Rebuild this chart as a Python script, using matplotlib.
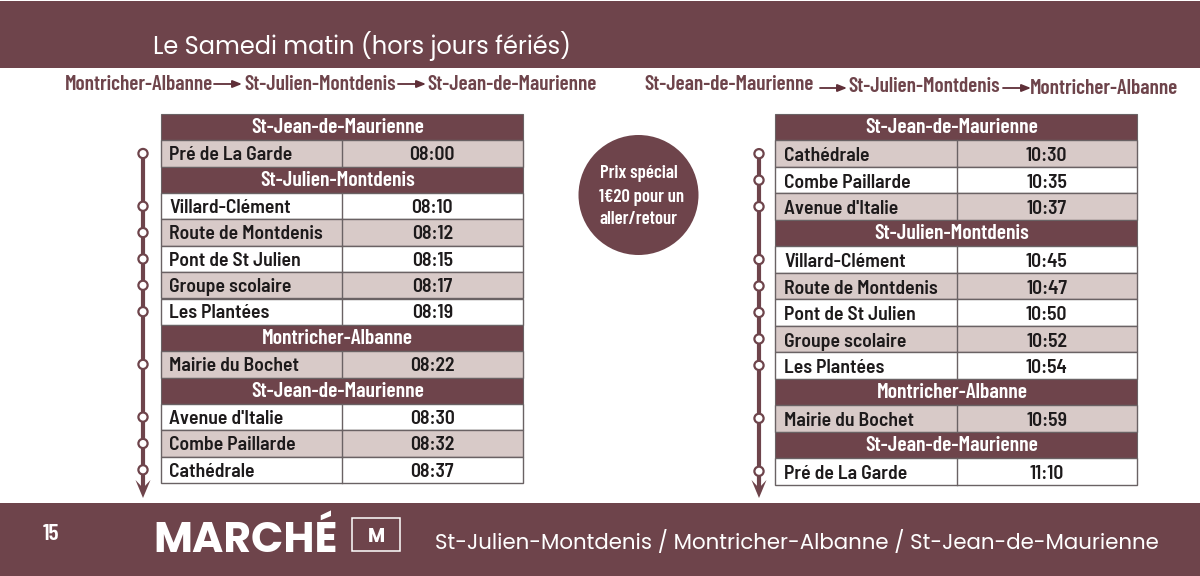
import matplotlib
matplotlib.use("Agg")
import matplotlib.pyplot as plt
from matplotlib.patches import Rectangle, Circle, Polygon

BROWN = "#6e444b"
SHADE = "#d8cac8"
EDGE = "#6a6264"
COND = ["Barlow Condensed", "DejaVu Sans"]
SEMI = ["Barlow Semi Condensed", "DejaVu Sans"]
WIDE = ["Poppins", "Open Sans", "DejaVu Sans"]

title = "Le Samedi matin (hors jours fériés)"
route_left = ["Montricher-Albanne", "St-Julien-Montdenis", "St-Jean-de-Maurienne"]
route_right = ["St-Jean-de-Maurienne", "St-Julien-Montdenis", "Montricher-Albanne"]

left_stops = ["St-Jean-de-Maurienne", "Pré de La Garde", "St-Julien-Montdenis", "Villard-Clément",
              "Route de Montdenis", "Pont de St Julien", "Groupe scolaire", "Les Plantées",
              "Montricher-Albanne", "Mairie du Bochet", "St-Jean-de-Maurienne", "Avenue d'Italie",
              "Combe Paillarde", "Cathédrale"]
left_times = [None, "08:00", None, "08:10", "08:12", "08:15", "08:17", "08:19",
              None, "08:22", None, "08:30", "08:32", "08:37"]
left_shaded = [0, 1, 0, 0, 1, 0, 1, 0, 0, 1, 0, 0, 1, 0]

right_stops = ["St-Jean-de-Maurienne", "Cathédrale", "Combe Paillarde", "Avenue d'Italie",
               "St-Julien-Montdenis", "Villard-Clément", "Route de Montdenis", "Pont de St Julien",
               "Groupe scolaire", "Les Plantées", "Montricher-Albanne", "Mairie du Bochet",
               "St-Jean-de-Maurienne", "Pré de La Garde"]
right_times = [None, "10:30", "10:35", "10:37", None, "10:45", "10:47", "10:50",
               "10:52", "10:54", None, "10:59", None, "11:10"]
right_shaded = [0, 1, 0, 1, 0, 0, 1, 0, 1, 0, 0, 1, 0, 0]

promo_lines = ["Prix spécial", "1€20 pour un", "aller/retour"]
page = "15"
section = "MARCHÉ"
badge = "M"
footer = "St-Julien-Montdenis / Montricher-Albanne / St-Jean-de-Maurienne"

fig = plt.figure(figsize=(12, 5.76), dpi=100, facecolor="white")
ax = fig.add_axes([0, 0, 1, 1])
ax.set_xlim(0, 1200)
ax.set_ylim(576, 0)
ax.axis("off")

ax.add_patch(Rectangle((0, 1), 1200, 66.5, fc=BROWN, ec="none"))
ax.add_patch(Rectangle((0, 503), 1200, 73, fc=BROWN, ec="none"))
ax.text(153, 46, title, color="white", fontsize=17.3, family=WIDE, va="center", ha="left")


def route(names, xs, ys, arrows):
    for n, x, y in zip(names, xs, ys):
        ax.text(x, y, n, color=BROWN, fontsize=15.3, family=COND, weight="semibold", va="center", ha="left")
    for (x0, x1, y) in arrows:
        ax.annotate("", xy=(x1, y), xytext=(x0, y),
                    arrowprops=dict(arrowstyle="-|>,head_length=0.55,head_width=0.22",
                                    color="#5f2f38", lw=1.3, shrinkA=0, shrinkB=0))


route(route_left, [65, 244, 427], [84, 84, 84], [(214, 242, 84), (398, 426, 84)])
route(route_right, [644, 848, 1030], [85, 86, 88], [(820, 847, 88), (1003, 1031, 88)])


def table(x0, x1, xm, top, bottom, stops, times, shaded, line_x, arrow_end, text_dy, text_dx):
    h = (bottom - top) / len(stops)
    centres = []
    for i, (s, t, sh) in enumerate(zip(stops, times, shaded)):
        y = top + i * h
        if t is None:
            ax.add_patch(Rectangle((x0, y), x1 - x0, h, fc=BROWN, ec=EDGE, lw=0.8, zorder=2))
            ax.text((x0 + x1) / 2 - 4, y + h / 2 + 0.5, s, color="white", fontsize=15.6, family=COND,
                    weight="semibold", ha="center", va="center", zorder=3)
        else:
            ax.add_patch(Rectangle((x0, y), x1 - x0, h, fc=SHADE if sh else "white", ec=EDGE, lw=1, zorder=2))
            ax.plot([xm, xm], [y, y + h], color=EDGE, lw=1, zorder=3)
            ax.text(x0 + text_dx, y + h / 2 + text_dy, s, color="#1d1a1b", fontsize=14.2, family=SEMI,
                    weight="semibold", ha="left", va="center", zorder=3)
            ax.text((xm + x1) / 2, y + h / 2 + text_dy, t, color="#1d1a1b", fontsize=14.2, family=SEMI,
                    weight="semibold", ha="center", va="center", zorder=3)
            centres.append(y + h / 2)
    ax.plot([line_x, line_x], [centres[0], arrow_end - 6], color=BROWN, lw=3, zorder=2, solid_capstyle="butt")
    for c in centres:
        ax.add_patch(Circle((line_x, c), 4.6, fc="white", ec=BROWN, lw=1.6, zorder=3))
    ax.add_patch(Polygon([[line_x - 7.5, arrow_end - 18], [line_x, arrow_end - 10], [line_x + 7.5, arrow_end - 18],
                          [line_x, arrow_end]], closed=True, fc=BROWN, ec="none", zorder=3))


table(161, 522.5, 342, 114, 483, left_stops, left_times, left_shaded, 143, 498, 1.8, 8)
table(775, 1137, 956.5, 114, 484.5, right_stops, right_times, right_shaded, 759, 498, 2.6, 9)

ax.add_patch(Circle((638.5, 195), 60, fc=BROWN, ec="none"))
for line, y, dx in zip(promo_lines, [174, 197, 220], [0, 3, 0]):
    ax.text(638.5 + dx, y, line, color="white", fontsize=13.5, family=COND, weight="semibold",
            ha="center", va="center")

ax.text(51, 534, page, color="white", fontsize=17, family=COND, weight="semibold", ha="center", va="center")
ax.text(153, 542, section, color="white", fontsize=30.6, family=WIDE, weight="bold", ha="left", va="center")
ax.add_patch(Rectangle((352, 518), 48, 33, fc="none", ec="white", lw=1.1))
ax.text(376, 538, badge, color="white", fontsize=13.5, family=WIDE, weight="bold", ha="center", va="center")
ax.text(435, 543, footer, color="white", fontsize=15.4, family=WIDE, ha="left", va="center")

fig.savefig("out.png", dpi=100, facecolor="white")
